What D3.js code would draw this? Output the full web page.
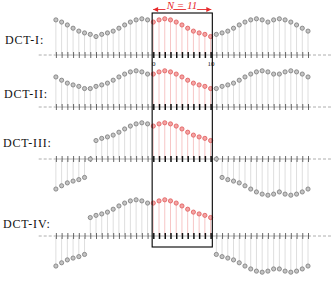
<!DOCTYPE html>
<html>
<head>
<meta charset="utf-8">
<script src="https://cdn.jsdelivr.net/npm/d3@7"></script>
<style>
  body { margin: 0; background: #fff; }
  text { font-family: "Liberation Serif", "DejaVu Serif", serif; }
</style>
</head>
<body>
<div id="chart"></div>
<script>
// sample index of the first value in every row (the red data is n = 0..10)
const firstIndex = -17;
const dataLength = 11;
const rowLabels = ["DCT-I:", "DCT-II:", "DCT-III:", "DCT-IV:"];

// values, one per sample n = -17..27 (red data = max 100)
const dct1 = [97, 91, 83, 74, 66, 61, 57, 51, 57, 61, 66, 74, 83, 91, 97, 100, 97,
              91, 97, 100, 97, 91, 83, 74, 66, 61, 57, 51,
              57, 61, 66, 74, 83, 91, 97, 100, 97, 91, 97, 100, 97, 91, 83, 74, 66];
const dct2 = [83, 74, 66, 61, 57, 51, 51, 57, 61, 66, 74, 83, 91, 97, 100, 97, 91,
              91, 97, 100, 97, 91, 83, 74, 66, 61, 57, 51,
              51, 57, 61, 66, 74, 83, 91, 97, 100, 97, 91, 91, 97, 100, 97, 91, 83];
const dct3 = [-83, -74, -66, -61, -57, -51, 0, 51, 57, 61, 66, 74, 83, 91, 97, 100, 97,
              91, 97, 100, 97, 91, 83, 74, 66, 61, 57, 51,
              0, -51, -57, -61, -66, -74, -83, -91, -97, -100, -97, -91, -97, -100, -97, -91, -83];
const dct4 = [-83, -74, -66, -61, -57, -51, 51, 57, 61, 66, 74, 83, 91, 97, 100, 97, 91,
              91, 97, 100, 97, 91, 83, 74, 66, 61, 57, 51,
              -51, -57, -61, -66, -74, -83, -91, -97, -100, -97, -91, -91, -97, -100, -97, -91, -83];
const axisLabels = [0, 10];

const rows = [dct1, dct2, dct3, dct4];
const baselines = [55, 107, 159, 236];
const labelPos = [[5, 44], [4, 98], [3, 147], [3, 228]];

const width = 334, height = 282;

const svg = d3.select("#chart")
    .append("svg")
    .attr("width", width)
    .attr("height", height);

const x = d3.scaleLinear().domain([0, 10]).range([153.3, 210.6]);
const y = d3.scaleLinear().domain([-100, 100]).range([36.2, -36.2]);

const isData = n => n >= 0 && n < dataLength;

svg.append("defs").selectAll("marker")
    .data(["start", "end"])
    .join("marker")
    .attr("id", d => "arrow-" + d)
    .attr("viewBox", "0 0 10 10")
    .attr("refX", d => d === "end" ? 10 : 0)
    .attr("refY", 5)
    .attr("markerWidth", 7)
    .attr("markerHeight", 5)
    .attr("markerUnits", "userSpaceOnUse")
    .attr("orient", "auto")
    .append("path")
    .attr("d", d => d === "end" ? "M0,0L10,5L0,10z" : "M10,0L0,5L10,10z")
    .attr("fill", "#e8282a");

rows.forEach((vals, r) => {
    const pts = vals.map((v, i) => ({ n: firstIndex + i, v: v }));
    const nMin = firstIndex, nMax = firstIndex + vals.length - 1;

    const g = svg.append("g")
        .attr("transform", "translate(0," + baselines[r] + ")");

    // baseline, with dashed continuation at both ends
    g.append("line")
        .attr("x1", x(nMin)).attr("x2", x(nMax))
        .attr("stroke", "#999").attr("stroke-width", 0.8);
    g.selectAll("line.dash")
        .data([[nMin - 3, nMin], [nMax, nMax + 4]])
        .join("line")
        .attr("class", "dash")
        .attr("x1", d => x(d[0])).attr("x2", d => x(d[1]))
        .attr("stroke", "#999").attr("stroke-width", 0.8)
        .attr("stroke-dasharray", "3,2");

    // stems
    g.selectAll("line.stem")
        .data(pts.filter(d => d.v !== 0))
        .join("line")
        .attr("class", "stem")
        .attr("x1", d => x(d.n)).attr("x2", d => x(d.n))
        .attr("y1", 0).attr("y2", d => y(d.v))
        .attr("stroke", d => isData(d.n) ? "#f7c6c6" : "#dedede")
        .attr("stroke-width", 1);

    // tick marks on the baseline
    const axis = d3.axisBottom(x)
        .tickValues(pts.map(d => d.n))
        .tickSize(6)
        .tickFormat("");
    const ax = g.append("g")
        .attr("transform", "translate(0,-3)")
        .call(axis);
    ax.select(".domain").remove();
    ax.selectAll(".tick line")
        .attr("stroke", d => isData(d) ? "#111" : "#444")
        .attr("stroke-width", d => isData(d) ? 1.5 : 0.8);

    // sample points
    g.selectAll("circle")
        .data(pts)
        .join("circle")
        .attr("cx", d => x(d.n))
        .attr("cy", d => y(d.v))
        .attr("r", 2.1)
        .attr("fill", d => isData(d.n) ? "#f4a3a3" : "#c4c4c4")
        .attr("stroke", d => isData(d.n) ? "#e05a5a" : "#7a7a7a")
        .attr("stroke-width", 0.8);

    svg.append("text")
        .attr("x", labelPos[r][0])
        .attr("y", labelPos[r][1])
        .attr("font-size", 12)
        .attr("letter-spacing", 0.8)
        .attr("fill", "#111")
        .text(rowLabels[r]);

    if (r === 0) {
        const lab = g.append("g")
            .attr("transform", "translate(0,6)")
            .call(d3.axisBottom(x).tickValues(axisLabels).tickSize(0).tickPadding(0));
        lab.select(".domain").remove();
        lab.selectAll("text")
            .attr("font-family", "Liberation Serif, serif")
            .attr("font-size", 7)
            .attr("fill", "#111");
    }
});

// frame round the N data points
svg.append("rect")
    .attr("x", x(-0.2))
    .attr("y", 13)
    .attr("width", x(10.3) - x(-0.2))
    .attr("height", 234)
    .attr("fill", "none")
    .attr("stroke", "#000")
    .attr("stroke-width", 1.1);

svg.append("line")
    .attr("x1", x(-0.2) + 1).attr("x2", x(10.3) - 1)
    .attr("y1", 9.5).attr("y2", 9.5)
    .attr("stroke", "#e8282a").attr("stroke-width", 0.9)
    .attr("marker-start", "url(#arrow-start)")
    .attr("marker-end", "url(#arrow-end)");

svg.append("text")
    .attr("x", x(5))
    .attr("y", 8.5)
    .attr("text-anchor", "middle")
    .attr("font-size", 11)
    .attr("font-style", "italic")
    .attr("fill", "#e8282a")
    .attr("stroke", "#fff").attr("stroke-width", 2).attr("paint-order", "stroke")
    .text("N = " + dataLength);
</script>
</body>
</html>
